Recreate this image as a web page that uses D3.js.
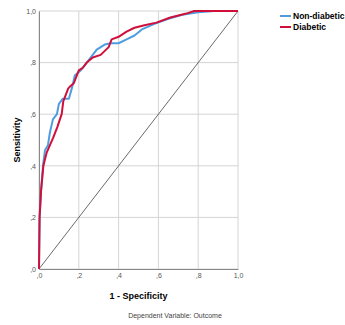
<!DOCTYPE html>
<html>
<head>
<meta charset="utf-8">
<script src="https://cdn.jsdelivr.net/npm/d3@7"></script>
<style>
  body { margin: 0; background: #fff; }
  svg { display: block; }
</style>
</head>
<body>
<div id="roc-chart"></div>
<script>
// ROC points: 1 - specificity (fpr) and sensitivity (tpr)
var nonDiabeticFpr = [0, 0.003, 0.01, 0.02, 0.03, 0.045, 0.055, 0.07, 0.09, 0.1, 0.12, 0.15, 0.165, 0.18, 0.21, 0.24, 0.27, 0.29, 0.33, 0.36, 0.4, 0.44, 0.48, 0.52, 0.58, 0.65, 0.72, 0.8, 0.88, 1];
var nonDiabeticTpr = [0, 0.2, 0.3, 0.4, 0.46, 0.48, 0.53, 0.58, 0.6, 0.64, 0.66, 0.66, 0.7, 0.75, 0.77, 0.8, 0.83, 0.85, 0.87, 0.875, 0.875, 0.89, 0.905, 0.93, 0.95, 0.97, 0.985, 0.995, 1, 1];
var diabeticFpr = [0, 0.003, 0.01, 0.022, 0.038, 0.055, 0.072, 0.092, 0.105, 0.114, 0.122, 0.147, 0.16, 0.175, 0.2, 0.22, 0.24, 0.27, 0.31, 0.35, 0.365, 0.4, 0.44, 0.48, 0.53, 0.59, 0.66, 0.74, 0.78, 1];
var diabeticTpr = [0, 0.2, 0.3, 0.4, 0.45, 0.48, 0.51, 0.55, 0.58, 0.6, 0.65, 0.7, 0.71, 0.72, 0.77, 0.78, 0.8, 0.82, 0.83, 0.86, 0.89, 0.9, 0.92, 0.935, 0.945, 0.955, 0.975, 0.99, 1, 1];
var tickValues = [0, 0.2, 0.4, 0.6, 0.8, 1];
var tickLabels = [",0", ",2", ",4", ",6", ",8", "1,0"];
var seriesNames = ["Non-diabetic", "Diabetic"];
var seriesColors = ["#4f9ddf", "#d0103a"];

var w = 345, h = 325;
var margin = {left: 39, right: 107, top: 11, bottom: 56};

var svg = d3.select("#roc-chart")
  .append("svg")
  .attr("width", w)
  .attr("height", h);

var x = d3.scaleLinear().domain([0, 1]).range([margin.left, w - margin.right]);
var y = d3.scaleLinear().domain([0, 1]).range([h - margin.bottom, margin.top]);

// grid
svg.append("g").selectAll("line.vg")
  .data(tickValues).enter().append("line")
  .attr("x1", function(d) { return x(d); })
  .attr("x2", function(d) { return x(d); })
  .attr("y1", y(0)).attr("y2", y(1))
  .attr("stroke", "#d4d4d4").attr("stroke-width", 1);
svg.append("g").selectAll("line.hg")
  .data(tickValues).enter().append("line")
  .attr("y1", function(d) { return y(d); })
  .attr("y2", function(d) { return y(d); })
  .attr("x1", x(0)).attr("x2", x(1))
  .attr("stroke", "#d4d4d4").attr("stroke-width", 1);

// axes
var xAxis = d3.axisBottom(x).tickValues(tickValues)
  .tickFormat(function(d, i) { return tickLabels[i]; }).tickSize(0).tickPadding(4);
var yAxis = d3.axisLeft(y).tickValues(tickValues)
  .tickFormat(function(d, i) { return tickLabels[i]; }).tickSize(0).tickPadding(3);

var gx = svg.append("g").attr("transform", "translate(0," + y(0) + ")").call(xAxis);
var gy = svg.append("g").attr("transform", "translate(" + x(0) + ",0)").call(yAxis);
[gx, gy].forEach(function(g) {
  g.select(".domain").attr("stroke", "#888");
  g.selectAll("text").attr("fill", "#555")
    .style("font-family", "Liberation Sans Narrow, Liberation Sans, Arial, sans-serif")
    .style("font-size", "7px");
});

// reference diagonal
svg.append("line")
  .attr("x1", x(0)).attr("y1", y(0))
  .attr("x2", x(1)).attr("y2", y(1))
  .attr("stroke", "#444").attr("stroke-width", 0.8);

// curves
var line = d3.line()
  .x(function(d) { return x(d[0]); })
  .y(function(d) { return y(d[1]); });

var curves = [d3.zip(nonDiabeticFpr, nonDiabeticTpr), d3.zip(diabeticFpr, diabeticTpr)];
curves.forEach(function(c, i) {
  svg.append("path")
    .datum(c)
    .attr("fill", "none")
    .attr("stroke", seriesColors[i])
    .attr("stroke-width", 2)
    .attr("stroke-linejoin", "round")
    .attr("d", line);
});

// axis titles
svg.append("text")
  .attr("x", (x(0) + x(1)) / 2).attr("y", 299)
  .attr("text-anchor", "middle")
  .style("font-family", "Liberation Sans, Arial, sans-serif")
  .style("font-size", "9px").style("font-weight", "bold")
  .text("1 - Specificity");
svg.append("text")
  .attr("transform", "translate(20," + ((y(0) + y(1)) / 2) + ") rotate(-90)")
  .attr("text-anchor", "middle")
  .style("font-family", "Liberation Sans, Arial, sans-serif")
  .style("font-size", "9px").style("font-weight", "bold")
  .text("Sensitivity");

svg.append("text")
  .attr("x", 175).attr("y", 318)
  .attr("text-anchor", "middle")
  .attr("fill", "#444")
  .style("font-family", "Liberation Sans Narrow, Liberation Sans, Arial, sans-serif")
  .style("font-size", "7px")
  .text("Dependent Variable: Outcome");

// legend
var legend = svg.selectAll("g.legend")
  .data(seriesNames).enter().append("g")
  .attr("class", "legend")
  .attr("transform", function(d, i) { return "translate(280," + (16 + i * 11) + ")"; });
legend.append("line")
  .attr("x1", 0).attr("x2", 11)
  .attr("stroke", function(d, i) { return seriesColors[i]; })
  .attr("stroke-width", 2);
legend.append("text")
  .attr("x", 13).attr("dy", "0.35em")
  .style("font-family", "Liberation Sans, Arial, sans-serif")
  .style("font-size", "8.5px").style("font-weight", "bold")
  .text(function(d) { return d; });
</script>
</body>
</html>
